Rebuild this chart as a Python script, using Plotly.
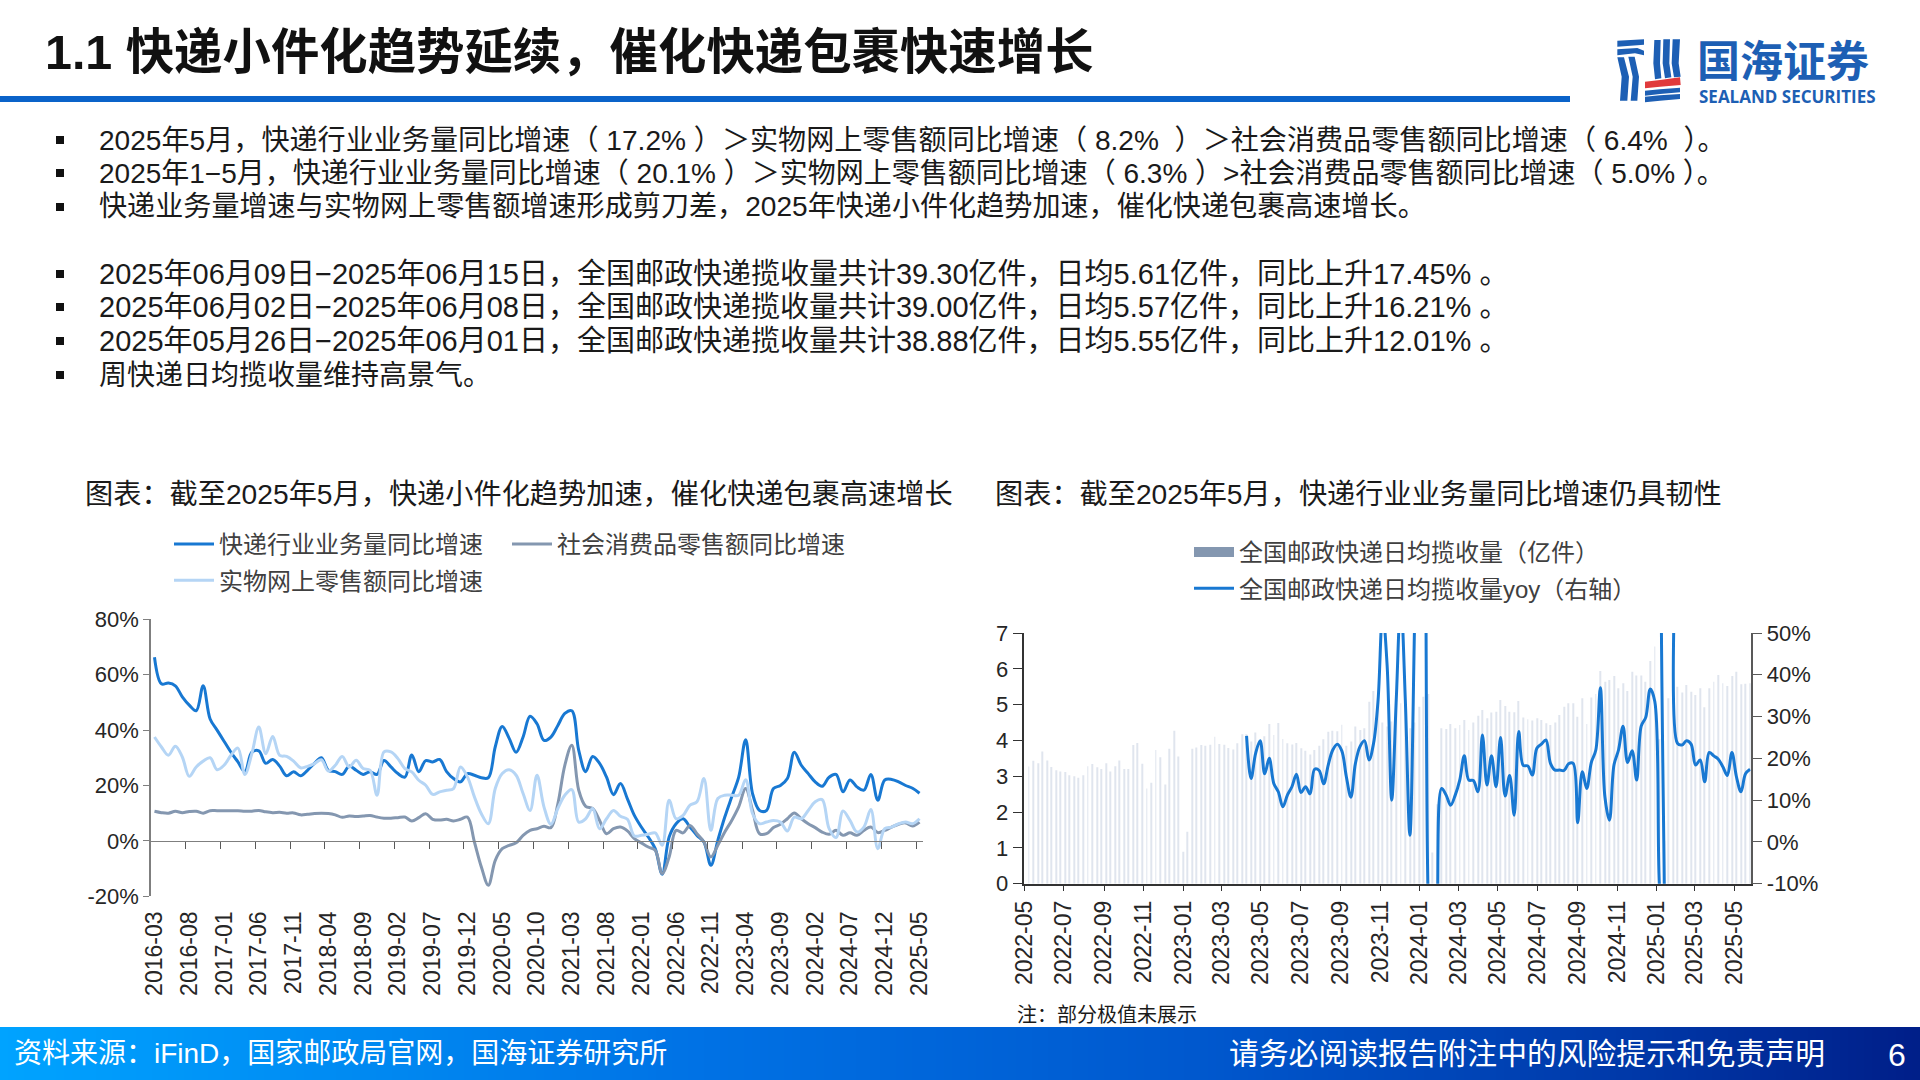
import pandas as pd
import plotly.graph_objects as go

# ---------- data ----------
months = [str(p) for p in pd.period_range("2016-03", "2025-05", freq="M")]
express_yoy = [66.3,56.7,57,56,52,49,47,56,44,40,36,32,28.5,25,32,32.5,28,29.4,27,23.5,25,23.5,25.5,28,30,25.5,25,24,27,25.5,24,25,24,29,26.7,24.3,23,31,25,29,28.5,29.4,25,22.5,21.3,24.3,23.7,22.8,22.8,34,41.3,37,32,37.5,45,42.3,36.3,37.5,41.7,46,47,32.7,25,30.5,28,23,16.7,20.7,15.2,9.2,5,1.4,-2.8,-12,1.4,6.2,8,5,2,-0.4,-8.8,0.2,8.6,15.9,23,36.5,17,11,11,18.9,20,22.5,32,27.3,24.3,21.3,19.7,23,24,17.7,22,19.5,18.3,24,14.7,22,22.2,21.3,20,19,17.2]
online_yoy = [37.5,33.9,30.9,34.2,30.3,23.3,26.7,28.8,30,25.7,27.3,30.9,33.5,24,31.5,41.1,31.5,37.7,30.9,30.5,28.8,26.4,26.9,27.9,29.3,25.2,27.3,30.5,26.7,29.1,26.1,25.5,16.5,32.1,32.1,29.7,26.1,24.9,21.9,20.1,16.8,17.7,18.3,18.9,26.7,23.1,15.9,9.8,6.2,18.9,24.3,25.7,23.7,17.1,11,23.7,12.3,6,11.7,16.5,18.5,6.8,8,11.7,4.4,8,11,8.9,7.8,1.8,2,2.4,2.9,-1.6,14.7,8,9.2,12.9,14.1,22.5,3.8,15.3,16.5,16.5,16.5,22.1,9.8,6.2,6.8,7.4,6.8,3.6,8.6,8,11,14.1,14.9,4.4,1.2,10.8,7.4,3.2,5,11.3,-2.8,4.4,5,6.2,6.8,6.2,8]
retail_yoy = [10.7,10.2,10,10.7,10.2,10.6,10.7,10,10.9,10.9,10.9,10.9,10.9,10.7,10.7,11,10.5,10.2,10.3,10,10.1,9.4,9.6,9.9,10,9.9,9.4,8.5,9,8.8,9,9.2,8.6,8.2,8.2,8.4,8.6,7.2,8.4,9.8,7.8,7.5,7.8,7.2,7.8,8.6,-0.4,-9.4,-16,-7,-2.8,-1.6,-0.7,2,3.8,4.4,5.3,4.8,13.4,27.3,34.5,18.3,12.5,11.7,7.4,2.6,4.4,5,3.6,0.8,-0.7,-2.2,-3.4,-11.8,-5.8,3.8,2.9,5.6,2.6,-0.4,-5.8,-1.6,3.2,7.4,12.3,18.9,11,2.6,2.6,4.8,6,8,10.1,8,6.2,4.8,3.2,2.4,3.8,2,2.9,2,3.8,5,3,3.8,5,6,6.5,5.4,6.8]
left_tick_labels = months[::5]
left_y_ticks = [-20, 0, 20, 40, 60, 80]
left_y_text = ["-20%", "0%", "20%", "40%", "60%", "80%"]
right_y_ticks = [-10, 0, 10, 20, 30, 40, 50]
right_y_text = ["-10%", "0%", "10%", "20%", "30%", "40%", "50%"]

weekly_volume = [3.27,3.43,3.36,3.69,3.44,3.26,3.17,3.13,3.12,3.03,3.0,2.96,3.03,3.28,3.34,3.25,3.2,3.36,3.13,3.28,3.44,3.2,3.2,3.87,3.93,3.35,2.66,2.82,3.73,3.53,2.77,3.77,4.27,3.55,0.89,1.45,3.77,3.8,3.87,3.85,3.88,4.1,3.9,3.88,3.79,3.75,3.92,4.17,4.17,3.97,4.22,3.98,4.12,4.46,4.15,4.49,4.04,3.92,3.89,3.93,3.78,3.71,3.61,3.73,3.85,4.03,4.24,4.27,4.26,4.44,3.85,3.97,4.39,4.29,4.34,5.08,5.38,5.13,4.5,4.39,4.53,5.04,5.04,5.13,4.34,4.5,4.94,5.22,5.3,0.87,2.22,4.34,4.32,4.46,4.34,4.43,4.57,4.29,4.5,4.69,4.85,4.62,4.78,4.8,5.13,4.96,4.8,4.79,5.1,4.64,4.59,4.56,4.62,4.57,4.48,4.43,4.5,4.71,4.94,5.04,5.04,4.66,5.18,4.46,5.2,5.3,5.94,5.64,5.69,5.8,5.46,5.6,5.38,5.92,5.81,5.81,5.64,6.22,6.62,4.03,1.2,5.18,4.96,5.5,5.34,5.55,5.36,5.27,5.46,4.93,5.46,5.64,5.83,5.6,5.52,5.8,5.92,5.57,5.58,5.6]
weekly_yoy = [None]*48 + [25.4,15.2,21.2,24.2,16.3,20,14,12,8.4,11.2,13.2,16.2,11.8,13.2,11.5,17.4,17.1,13.9,18.4,22,23.4,21.8,15.6,10.7,18.8,22.8,24.2,19.6,23.6,34,55,42,10,34,58,34,1.6,50,120,150,-12,-40,-20,12.8,11.2,8.8,11.2,14.8,20.6,14.8,14.7,12,25.6,13.6,20.6,13.2,25,11,15.9,6.4,26.4,18.3,18.2,16,22.4,23.4,24.4,18.8,17.2,17.2,17.1,18.7,18.8,4.6,16.8,12.8,19,22,36.9,10.8,5.2,18.4,22,27.7,19,21.8,14.8,27.7,29.8,36.6,33.6,-10,-25,120,120,23.6,23.2,24.2,23.4,18.4,19.6,14.4,21.4,20.6,19.8,18,15.9,21.4,15.6,12,16.3,17.4]
weeks = pd.date_range("2022-05-08", periods=len(weekly_volume), freq="7D")

bullets = [
    ("2025年5月，快递行业业务量同比增速（ 17.2% ）＞实物网上零售额同比增速（ 8.2%  ）＞社会消费品零售额同比增速（ 6.4%  ）。", 140, 28.1),
    ("2025年1−5月，快递行业业务量同比增速（ 20.1% ）＞实物网上零售额同比增速（ 6.3% ）>社会消费品零售额同比增速（ 5.0% ）。", 173, 28),
    ("快递业务量增速与实物网上零售额增速形成剪刀差，2025年快递小件化趋势加速，催化快递包裹高速增长。", 207, 28.1),
    ("2025年06月09日−2025年06月15日，全国邮政快递揽收量共计39.30亿件，日均5.61亿件，同比上升17.45% 。", 274, 29),
    ("2025年06月02日−2025年06月08日，全国邮政快递揽收量共计39.00亿件，日均5.57亿件，同比上升16.21% 。", 307, 29),
    ("2025年05月26日−2025年06月01日，全国邮政快递揽收量共计38.88亿件，日均5.55亿件，同比上升12.01% 。", 341, 29),
    ("周快递日均揽收量维持高景气。", 375, 28),
]

# ---------- helpers ----------
W, H = 1920, 1080
FONT = "Liberation Sans, 'Noto Sans CJK SC'"
TXT = "#262626"
def fx(px): return px / W
def fy(py): return 1 - py / H

fig = go.Figure()
BLUE, LIGHT, GREY = "#1878D2", "#B5D5F5", "#8497B0"

# left chart
fig.add_trace(go.Scatter(x=months, y=express_yoy, name="快递行业业务量同比增速", mode="lines", legendgroup="a",
                         line=dict(color=BLUE, width=3, shape="spline"), xaxis="x", yaxis="y", legend="legend"))
fig.add_trace(go.Scatter(x=months, y=retail_yoy, name="社会消费品零售额同比增速", mode="lines",
                         line=dict(color=GREY, width=3, shape="spline"), xaxis="x", yaxis="y", legend="legend3"))
fig.add_trace(go.Scatter(x=months, y=online_yoy, name="实物网上零售额同比增速", mode="lines", legendgroup="b",
                         line=dict(color=LIGHT, width=3, shape="spline"), xaxis="x", yaxis="y", legend="legend"))
# carrier of the tick marks on the zero line
fig.add_trace(go.Scatter(x=[None], y=[None], mode="lines", showlegend=False, xaxis="x4", yaxis="y"))

# right chart
fig.add_trace(go.Bar(x=weeks, y=weekly_volume, marker=dict(color="#E0E5EE", line=dict(width=0)),
                     width=1.4 * 86400000, showlegend=False, xaxis="x2", yaxis="y2"))
fig.add_trace(go.Scatter(x=[None], y=[None], name="全国邮政快递日均揽收量（亿件）", mode="lines", legendgroup="c",
                         line=dict(color=GREY, width=16), xaxis="x2", yaxis="y2", legend="legend2"))
fig.add_trace(go.Scatter(x=weeks, y=weekly_yoy, name="全国邮政快递日均揽收量yoy（右轴）", mode="lines", legendgroup="d",
                         line=dict(color=BLUE, width=3, shape="spline"), connectgaps=False,
                         xaxis="x2", yaxis="y3", legend="legend2"))

tickfont = dict(family=FONT, size=22, color=TXT)
xtickfont = dict(family=FONT, size=23, color=TXT)
L_X = [fx(151), fx(923)]; L_Y = [fy(896.3), fy(619.3)]
R_X = [fx(1024.3), fx(1750.7)]; R_Y = [fy(883.7), fy(633)]
legfont = dict(family=FONT, size=24, color="#404040")
legcommon = dict(orientation="v", xanchor="left", yanchor="top", font=legfont, itemwidth=40,
                 traceorder="grouped", tracegroupgap=2, bgcolor="rgba(0,0,0,0)")

fig.update_layout(
    width=W, height=H, margin=dict(l=0, r=0, t=0, b=0, autoexpand=False), paper_bgcolor="white", plot_bgcolor="rgba(0,0,0,0)",
    font=dict(family=FONT), barmode="overlay", hovermode=False,
    xaxis=dict(domain=L_X, type="category", range=[-0.5, 110.5], tickmode="array", tickvals=left_tick_labels,
               ticktext=left_tick_labels, tickangle=-90, tickfont=xtickfont, ticks="outside", ticklen=5,
               tickcolor="rgba(0,0,0,0)", showline=False, showgrid=False, zeroline=False, anchor="y"),
    xaxis4=dict(domain=L_X, overlaying="x", range=[-0.5, 110.5], anchor="free", position=fy(840.7), side="bottom",
                tickmode="array", tickvals=[i + 4.5 for i in range(0, 110, 5)], ticks="outside", ticklen=7,
                tickwidth=1.3, tickcolor="#595959", showticklabels=False, showgrid=False, zeroline=False,
                showline=True, linecolor="#7F7F7F", linewidth=1.3),
    yaxis=dict(domain=L_Y, range=[-20, 80], tickmode="array", tickvals=left_y_ticks, ticktext=left_y_text,
               tickfont=tickfont, ticks="outside", ticklen=6, tickwidth=1.3, tickcolor="#7F7F7F", showline=True,
               linecolor="#7F7F7F", linewidth=1.5, showgrid=False, zeroline=False, anchor="x"),
    xaxis2=dict(domain=R_X, type="date", range=["2022-05-01", "2025-05-26"], dtick="M2", tick0="2022-05-01",
                tickformat="%Y-%m", tickangle=-90, tickfont=xtickfont, ticks="outside", ticklen=6, tickwidth=1.3,
                tickcolor="#333333", ticklabelstandoff=0, showline=True, linecolor="#333333", linewidth=1.5,
                showgrid=False, zeroline=False, anchor="y2"),
    yaxis2=dict(domain=R_Y, range=[0, 7], dtick=1, tickfont=tickfont, ticks="outside", ticklen=10, tickwidth=1.3,
                tickcolor="#333333", showline=True, linecolor="#333333", linewidth=1.5, showgrid=False,
                zeroline=False, anchor="x2"),
    yaxis3=dict(domain=R_Y, range=[-10, 50], tickmode="array", tickvals=right_y_ticks, ticktext=right_y_text,
                tickfont=tickfont, overlaying="y2", side="right", ticks="outside", ticklen=10, tickwidth=1.3,
                tickcolor="#595959", showline=True, linecolor="#595959", linewidth=1.5, showgrid=False,
                zeroline=False, anchor="x2"),
    legend=dict(x=fx(169), y=fy(522), **legcommon),
    legend3=dict(x=fx(507), y=fy(522), **legcommon),
    legend2=dict(x=fx(1189), y=fy(530), **legcommon),
)

shapes = []
# footer gradient
stops = [(0.0, (0, 163, 255)), (0.36, (0, 114, 229)), (0.63, (0, 87, 205)), (0.85, (0, 56, 168)), (1.0, (0, 30, 136))]
def grad(t):
    for (t0, c0), (t1, c1) in zip(stops, stops[1:]):
        if t <= t1:
            k = (t - t0) / (t1 - t0)
            return "rgb(%d,%d,%d)" % tuple(round(a + (b - a) * k) for a, b in zip(c0, c1))
    return "rgb(0,30,136)"
for px in range(0, W, 8):
    shapes.append(dict(type="rect", xref="paper", yref="paper", x0=fx(px), x1=fx(min(px + 9, W)), y0=fy(1080), y1=fy(1027),
                       fillcolor=grad(px / W), line=dict(width=0), layer="below"))
# header rule
shapes.append(dict(type="rect", xref="paper", yref="paper", x0=0, x1=fx(1570), y0=fy(102), y1=fy(96),
                   fillcolor="#0A63C9", line=dict(width=0), layer="below"))
# bullets
for _, y, _s in bullets:
    shapes.append(dict(type="rect", xref="paper", yref="paper", x0=fx(56), x1=fx(64), y0=fy(y + 4), y1=fy(y - 4),
                       fillcolor="#111111", line=dict(width=0)))
# logo emblem
def poly(points, color):
    def lx(z): return fx(1560 + z / 3)
    def ly(z): return fy(20 + z / 3)
    d = "M " + " L ".join(f"{lx(a):.5f},{ly(b):.5f}" for a, b in points) + " Z"
    return dict(type="path", xref="paper", yref="paper", path=d, fillcolor=color, line=dict(width=0), layer="below")
LOGO = "#1D5FB4"; RED = "#E03A3C"
for pts in [
    [(172,62),(252,58),(252,74),(172,80)],
    [(172,88),(232,84),(252,92),(252,106),(225,100),(172,106)],
    [(172,112),(192,112),(207,170),(202,242),(180,242),(185,170)],
    [(205,110),(224,110),(237,170),(232,242),(212,242),(218,170)],
    [(283,60),(302,60),(300,130),(304,175),(285,178),(280,130)],
    [(310,58),(330,58),(328,130),(334,172),(315,175),(308,130)],
    [(338,58),(360,58),(356,130),(362,170),(342,172),(335,130)],
    [(255,212),(300,208),(360,203),(360,217),(300,222),(255,227)],
    [(255,230),(300,226),(360,222),(360,237),(300,242),(255,247)],
]:
    shapes.append(poly(pts, LOGO))
shapes.append(poly([(255,185),(300,180),(360,172),(362,195),(300,200),(255,205)], RED))
fig.update_layout(shapes=shapes)

# ---------- text ----------
def note(text, x, y, size, color="#1a1a1a", anchor="left", weight=400, family=FONT):
    fig.add_annotation(xref="paper", yref="paper", x=fx(x), y=fy(y), text=text, showarrow=False, xanchor=anchor,
                       yanchor="middle", align=anchor, xshift=0, borderpad=0,
                       font=dict(family=family, size=size, color=color, weight=weight))

note("1.1 快递小件化趋势延续，催化快递包裹快速增长", 44, 52, 48.4, "#111111", weight=700)
for t, y, s in bullets:
    note(t, 98, y, s)
note("图表：截至2025年5月，快递小件化趋势加速，催化快递包裹高速增长", 84, 494, 28.2)
note("图表：截至2025年5月，快递行业业务量同比增速仍具韧性", 994, 494, 28.2)
note("注：部分极值未展示", 1016, 1015, 20)
note("资料来源：iFinD，国家邮政局官网，国海证券研究所", 13, 1053, 28, "white")
note("请务必阅读报告附注中的风险提示和免责声明", 1228, 1053, 29.8, "white")
note("6", 1907, 1055, 32, "white", anchor="right")
note("国海证券", 1696, 62, 43, LOGO, weight=700)
note("SEALAND SECURITIES", 1698, 97, 17, LOGO, weight=700, family="'Open Sans', 'Liberation Sans'")

fig.write_html("out.html", config=dict(displayModeBar=False),
               post_script="document.body.style.margin='0';document.body.style.overflow='hidden';")
